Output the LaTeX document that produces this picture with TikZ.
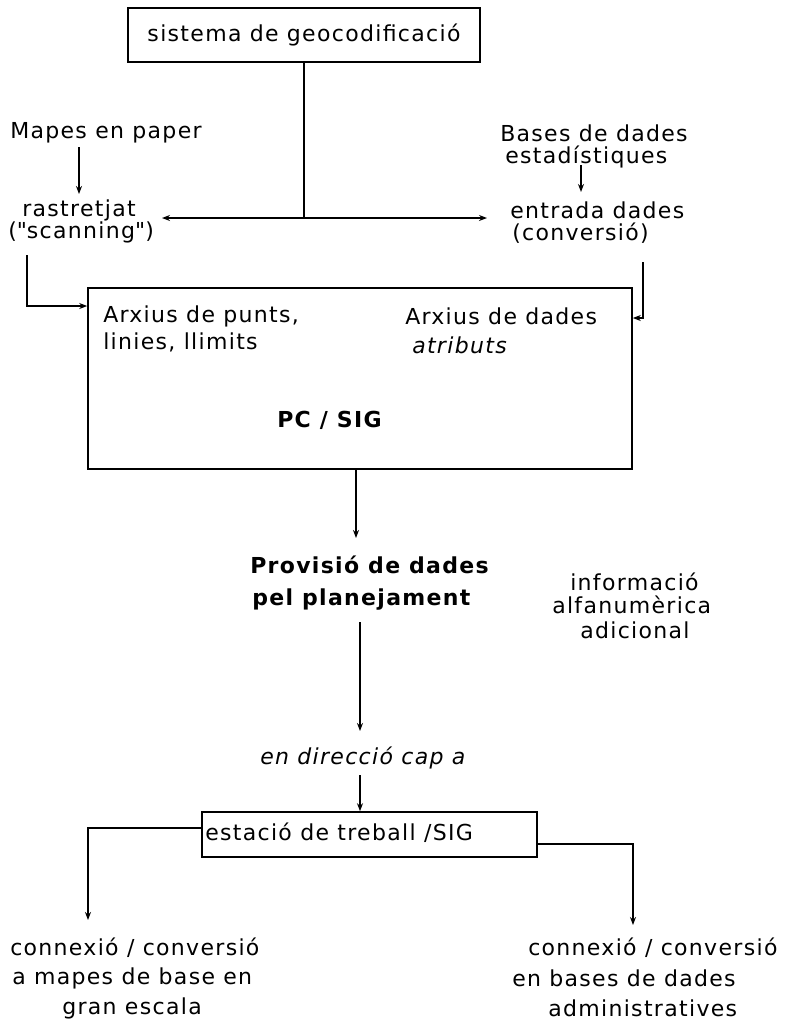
\documentclass[tikz,border=0pt]{standalone}
\usepackage{fontspec}
\setmainfont{DejaVu Sans}[LetterSpace=6]
\newfontfamily\qf{DejaVu Sans}[LetterSpace=6]
\usetikzlibrary{arrows.meta}
\begin{document}
\begin{tikzpicture}[x=0.75pt,y=-0.75pt,
  txt/.style={inner sep=0pt, anchor=west, font=\fontsize{16.5}{19}\selectfont},
  ln/.style={line width=1pt},
  arr/.style={ln,-{Stealth[length=6pt,width=4.5pt]}},
  box/.style={draw,line width=1.2pt,inner sep=0pt}]
\useasboundingbox (0,0) rectangle (785,1022);
\fill[white] (0,0) rectangle (785,1022);
% boxes
\node[box,minimum width=264pt,minimum height=40.5pt,font=\fontsize{16.5}{19}\selectfont] (geo) at (304,35) {sistema de geocodificació};
\node[box,minimum width=408pt,minimum height=135.75pt] (sig) at (360,378.5) {};
\node[box,minimum width=251.25pt,minimum height=33.75pt] (est) at (369.5,834.5) {};
% texts
\node[txt] (mapes) at (10,133) {Mapes en paper};
\node[txt] (rast) at (22,210) {rastretjat};
\node[txt] (scan) at (8,232) {({\qf"}scanning{\qf"})};
\node[txt] (bases) at (500,133) {Bases de dades};
\node[txt] (estad) at (505,157) {estadístiques};
\node[txt] (entr) at (510,210) {entrada dades};
\node[txt] (conv) at (512,233) {(conversió)};
\node[txt] (ax1) at (103,316) {Arxius de punts,};
\node[txt] (ax2) at (103,342) {linies, llimits};
\node[txt] (ad1) at (405,316) {Arxius de dades};
\node[txt,font=\fontsize{16.5}{19}\selectfont\itshape] (ad2) at (412,345) {atributs};
\node[txt,font=\fontsize{16.5}{19}\selectfont\bfseries] (pc) at (277,420) {PC / SIG};
\node[txt,font=\fontsize{16.5}{19}\selectfont\bfseries] (prov1) at (250,565) {Provisió de dades};
\node[txt,font=\fontsize{16.5}{19}\selectfont\bfseries] (prov2) at (252,600) {pel planejament};
\node[txt] (inf1) at (570,582) {informació};
\node[txt] (inf2) at (552,605) {alfanumèrica};
\node[txt] (inf3) at (580,630) {adicional};
\node[txt,font=\fontsize{16.5}{19}\selectfont\itshape] (dir) at (260,758) {en direcció cap a};
\node[txt] (estt) at (205,833) {estació de treball /SIG};
\node[txt] (l1) at (10,948) {connexió / conversió};
\node[txt] (l2) at (12,978) {a mapes de base en};
\node[txt] (l3) at (62,1008) {gran escala};
\node[txt] (r1) at (528,948) {connexió / conversió};
\node[txt] (r2) at (512,978) {en bases de dades};
\node[txt] (r3) at (548,1008) {administratives};
% coordinates
\coordinate (j) at (304,218);
\coordinate (tipL) at (162,218);
\coordinate (tipR) at (487,218);
\coordinate (m0) at (79,147);
\coordinate (m1) at (79,194);
\coordinate (b0) at (581,165);
\coordinate (b1) at (581,192);
\coordinate (s0) at (27,255);
\coordinate (yl) at (0,306);
\coordinate (c0) at (643,262);
\coordinate (yr) at (0,318);
\coordinate (p1) at (356,538);
\coordinate (d0) at (360,622);
\coordinate (d1) at (360,731);
\coordinate (e0) at (360,775);
\coordinate (yb1) at (0,828);
\coordinate (yb2) at (0,844);
\coordinate (bl) at (88,920);
\coordinate (br) at (633,925);
% connectors
\draw[ln] (geo.south -| j) -- (j);
\draw[arr] (j) -- (tipL);
\draw[arr] (j) -- (tipR);
\draw[arr] (m0) -- (m1);
\draw[arr] (b0) -- (b1);
\draw[arr] (s0) |- (sig.west |- yl);
\draw[arr] (c0) |- (sig.east |- yr);
\draw[arr] (sig.south -| p1) -- (p1);
\draw[arr] (d0) -- (d1);
\draw[arr] (e0) -- (est.north -| e0);
\draw[arr] (est.west |- yb1) -| (bl);
\draw[arr] (est.east |- yb2) -| (br);
\end{tikzpicture}
\end{document}
